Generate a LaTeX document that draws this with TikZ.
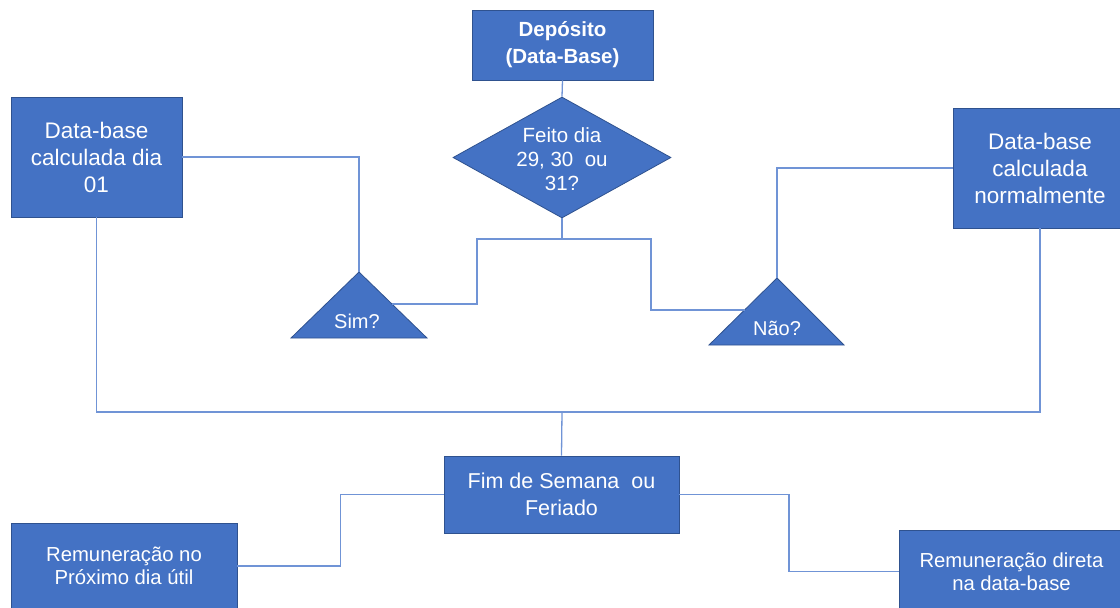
\documentclass[tikz,border=0pt]{standalone}
\usepackage{fontspec}
\setmainfont{Liberation Sans}
\usetikzlibrary{shapes.geometric,calc}
\definecolor{boxfill}{HTML}{4472C4}
\definecolor{boxline}{HTML}{2F528F}
\definecolor{connc}{HTML}{7094D6}
\tikzset{
  box/.style={draw=boxline, line width=0.8pt, fill=boxfill, text=white, align=center, inner sep=0pt,
    font=\fontsize{22.5}{27}\selectfont},
  lowbox/.style={box, font=\fontsize{20.3}{23.5}\selectfont},
  tri/.style={draw=boxline, line width=0.8pt, fill=boxfill},
  label/.style={text=white, align=center, inner sep=0pt, font=\fontsize{20}{24}\selectfont},
  conn/.style={draw=connc, line width=1.3pt}
}
\begin{document}
\begin{tikzpicture}[x=1pt,y=-1pt]
\useasboundingbox (0,0) rectangle (1120,608);
\clip (0,0) rectangle (1120,608);

% boxes
\node[box, minimum width=181pt, minimum height=70pt, font=\bfseries\fontsize{20.5}{27}\selectfont] (dep) at (562.5,45) {Depósito\\(Data-Base)};
\node[shape=diamond, draw=boxline, line width=0.8pt, fill=boxfill, minimum width=218pt, minimum height=121pt, inner sep=0pt] (dia) at (562,157.5) {};
\node[label, font=\fontsize{20.5}{24}\selectfont] (diat) at (562,159) {Feito dia\\29, 30\ \ ou\\31?};
\node[box, minimum width=171pt, minimum height=120pt] (lb) at (96.5,157) {Data-base\\calculada dia\\01};
\node[box, minimum width=174pt, minimum height=120pt] (rb) at (1040,168) {Data-base\\calculada\\normalmente};
\node[box, minimum width=235pt, minimum height=77pt, font=\fontsize{21.5}{26.5}\selectfont] (fim) at (561.5,494.5) {Fim de Semana\ \ ou\\Feriado};
\node[lowbox, minimum width=226pt, minimum height=86pt] (rprox) at (124,566) {Remuneração no\\Próximo dia útil};
\node[lowbox, minimum width=225pt, minimum height=83pt] (rdir) at (1011.5,571.5) {Remuneração direta\\na data-base};

% triangles
\coordinate (simT) at (359,272);
\coordinate (simL) at (291,338);
\coordinate (simR) at (427,338);
\fill[tri] (simT) -- (simR) -- (simL) -- cycle;
\node[label] (simtxt) at (357,321) {Sim?};
\coordinate (naoT) at (777,278);
\coordinate (naoL) at (709,345);
\coordinate (naoR) at (844,345);
\fill[tri] (naoT) -- (naoR) -- (naoL) -- cycle;
\node[label] (naotxt) at (777,328) {Não?};

\coordinate (simE) at ($(simT)!0.485!(simR)$);
\coordinate (naoE) at ($(naoT)!0.478!(naoL)$);
\coordinate (splitL) at (477,239);
\coordinate (splitR) at (651,239);
\coordinate (join) at (562,412);

% connectors
\draw[conn] (dep.south) -- (dia.north);
\draw[conn] (dia.south) |- (splitL) |- (simE);
\draw[conn] (dia.south) |- (splitR) |- (naoE);
\draw[conn] (lb.east) -| (simT);
\draw[conn] (naoT) |- (rb.west);
\draw[conn] (lb.south) |- (join) -| (rb.south);
\draw[conn] (join) -- (fim.north);
\draw[conn] (fim.west) -| ($(fim.west)!0.5!(rprox.east)$) |- (rprox.east);
\draw[conn] (fim.east) -| ($(fim.east)!0.5!(rdir.west)$) |- (rdir.west);
\end{tikzpicture}
\end{document}
